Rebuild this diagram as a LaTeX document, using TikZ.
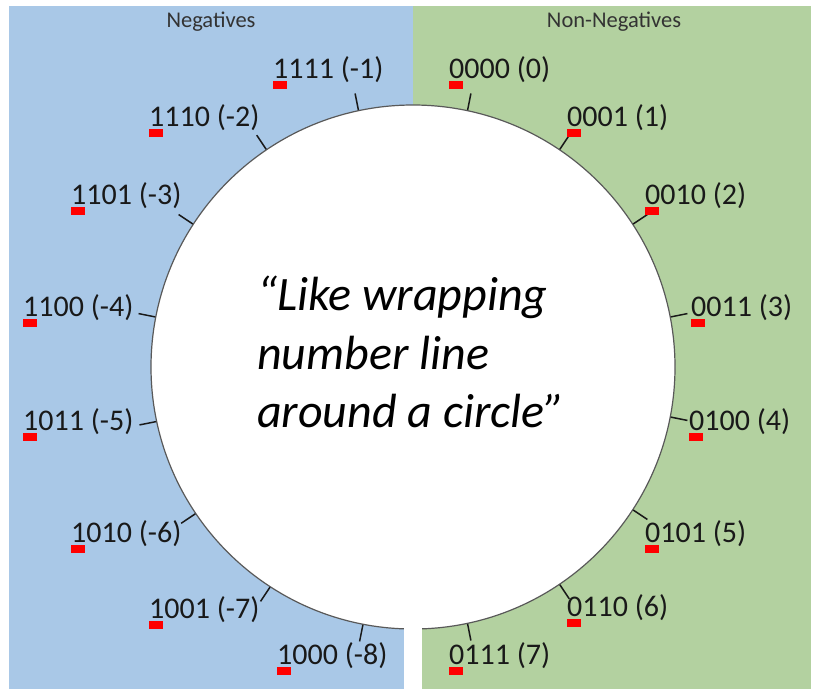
\documentclass[tikz,border=0pt]{standalone}
\usepackage{fontspec}
\setmainfont{Carlito}
\definecolor{negblue}{RGB}{169,200,231}
\definecolor{posgreen}{RGB}{179,209,160}
\begin{document}
\begin{tikzpicture}[x=1pt,y=-1pt,
  lbl/.style={anchor=base west, inner sep=0pt, font=\fontsize{30}{32}\selectfont, text=black!90},
  hdr/.style={font=\fontsize{22.5}{24}\selectfont, text=black!80},
  quote/.style={anchor=base west, inner sep=0pt, font=\itshape\fontsize{48}{52}\selectfont},
  tickline/.style={line width=1.5pt, draw=black!90},
  signbit/.style={fill=red}]
\useasboundingbox (0,0) rectangle (813,689);
\fill[negblue] (9,6) rectangle (413,689);
\fill[posgreen] (413,6) rectangle (811,689);
\node[hdr] (neg) at (211,22) {Negatives};
\node[hdr] (nonneg) at (614,22) {Non-Negatives};
\node[circle, draw=black!65, line width=1.2pt, fill=white, minimum size=524pt, inner sep=0pt] (ring) at (413,367) {};
\foreach \k in {0,...,15}{
  \pgfmathsetmacro\a{78.75-22.5*\k}
  \draw[tickline] (ring.\a) -- ++(\a:17pt);
}
\fill[white] (404,615) rectangle (422,689);
\foreach \n/\t/\x/\y in {
  m1/1111 (-1)/273/78, p0/0000 (0)/449/78,
  m2/1110 (-2)/149/126, p1/0001 (1)/567/126,
  m3/1101 (-3)/71/204, p2/0010 (2)/645/204,
  m4/1100 (-4)/23/316, p3/0011 (3)/691/316,
  m5/1011 (-5)/23/430, p4/0100 (4)/689/430,
  m6/1010 (-6)/71/542, p5/0101 (5)/645/542,
  m7/1001 (-7)/149/618, p6/0110 (6)/567/616,
  m8/1000 (-8)/277/664, p7/0111 (7)/449/664}{
  \node[lbl] (\n) at (\x,\y) {\t};
  \fill[signbit] (\x,\y+3) rectangle ++(13.5,8);
}
\node[quote] (q1) at (257,310) {“Like wrapping};
\node[quote] (q2) at (257,369) {number line};
\node[quote] (q3) at (257,427) {around a circle”};
\end{tikzpicture}
\end{document}
